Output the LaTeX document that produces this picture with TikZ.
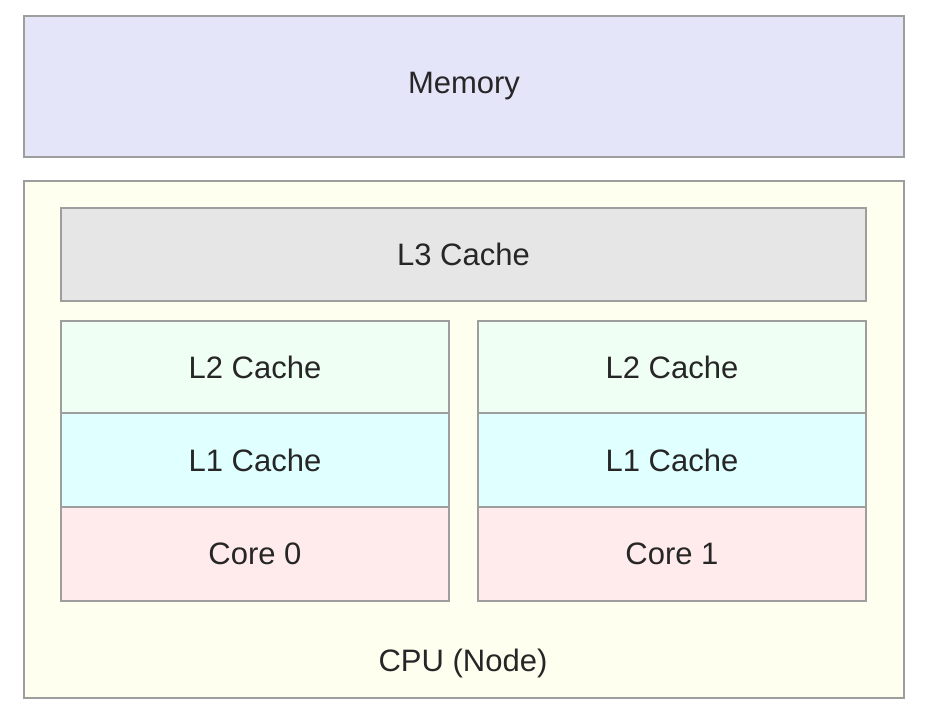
\documentclass[tikz,border=0pt]{standalone}
\usepackage{fontspec}
\setmainfont{Liberation Sans}
\definecolor{memfill}{HTML}{E5E5FA}
\definecolor{cpufill}{HTML}{FFFFF0}
\definecolor{lthreefill}{HTML}{E6E6E6}
\definecolor{ltwofill}{HTML}{F0FFF4}
\definecolor{lonefill}{HTML}{E0FFFF}
\definecolor{corefill}{HTML}{FFEAEC}
\definecolor{edge}{HTML}{9E9E9E}
\tikzset{
  blk/.style={draw=edge, line width=2pt, inner sep=0pt, font=\fontsize{31}{36}\selectfont, text=black!85},
}
\newcommand{\boxat}[6]{%
  \node[blk, fill=#6, minimum width=#4-#2, minimum height=#5-#3, anchor=north west] (#1) at (#2,#3) {};
}
\begin{document}
\begin{tikzpicture}[x=1pt,y=-1pt]
\useasboundingbox (0,0) rectangle (930,718);
\boxat{mem}{23}{15}{903}{156}{memfill}
\node at (mem.center) [font=\fontsize{31}{36}\selectfont, text=black!85] (memlbl) {Memory};
\boxat{cpu}{23}{180}{903}{697}{cpufill}
\node at (463,663) [font=\fontsize{31}{36}\selectfont, text=black!85] (cpulbl) {CPU (Node)};
\boxat{lthree}{60}{207}{865}{300}{lthreefill}
\node at (lthree.center) [font=\fontsize{31}{36}\selectfont, text=black!85] (lthreelbl) {L3 Cache};
% left column
\boxat{ltwoa}{60}{320}{448}{412}{ltwofill}
\node at (ltwoa.center) [font=\fontsize{31}{36}\selectfont, text=black!85] (ltwoalbl) {L2 Cache};
\boxat{lonea}{60}{412}{448}{506}{lonefill}
\node at (lonea.center) [font=\fontsize{31}{36}\selectfont, text=black!85] (lonealbl) {L1 Cache};
\boxat{corea}{60}{506}{448}{600}{corefill}
\node at (corea.center) [font=\fontsize{31}{36}\selectfont, text=black!85] (corealbl) {Core 0};
% right column
\boxat{ltwob}{477}{320}{865}{412}{ltwofill}
\node at (ltwob.center) [font=\fontsize{31}{36}\selectfont, text=black!85] (ltwoblbl) {L2 Cache};
\boxat{loneb}{477}{412}{865}{506}{lonefill}
\node at (loneb.center) [font=\fontsize{31}{36}\selectfont, text=black!85] (loneblbl) {L1 Cache};
\boxat{coreb}{477}{506}{865}{600}{corefill}
\node at (coreb.center) [font=\fontsize{31}{36}\selectfont, text=black!85] (coreblbl) {Core 1};
\end{tikzpicture}
\end{document}
